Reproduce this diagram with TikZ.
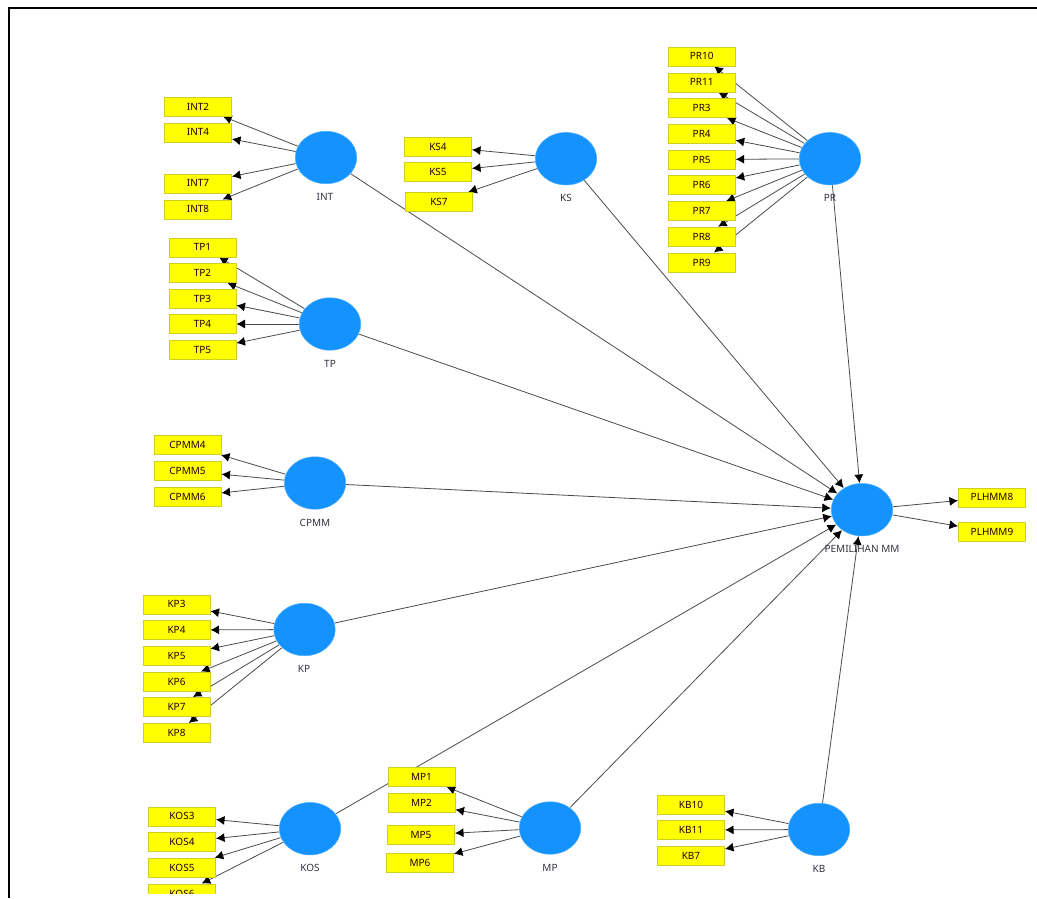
\documentclass[tikz,border=0pt]{standalone}
\usepackage{fontspec}
\setmainfont{Noto Sans}
\usetikzlibrary{shapes.geometric,arrows.meta,backgrounds}
\definecolor{lvblue}{HTML}{1493FF}
\definecolor{mvyellow}{HTML}{FFFF00}
\definecolor{mvedge}{HTML}{CFCF20}
\definecolor{linkgrey}{HTML}{4A4A4A}
\definecolor{lbltext}{HTML}{35303F}
\tikzset{
  latent/.style={ellipse,fill=lvblue,draw=lvblue!75!white,line width=.5pt,minimum width=61.5pt,minimum height=52.5pt,inner sep=0pt,outer sep=.5pt},
  mv/.style={rectangle,fill=mvyellow,draw=mvedge,line width=.6pt,minimum width=67pt,minimum height=19pt,inner sep=0pt,outer sep=.5pt,font=\fontsize{10}{11}\selectfont,text=black!85!red,text height=7.2pt,text depth=0pt},
  lbl/.style={font=\fontsize{10}{11}\selectfont,text=lbltext,inner sep=0pt},
  link/.style={draw=linkgrey,line width=.8pt,-{Latex[length=8.5pt,width=9pt,color=black]}},
  frameline/.style={draw=black,line width=2pt}
}
\begin{document}
\begin{tikzpicture}[x=1pt,y=-1pt]
\useasboundingbox (0,0) rectangle (1037,898);
\coordinate (fa) at (9,898);
\coordinate (fb) at (9,8);
\coordinate (fc) at (1037,8);
\draw[frameline] (fa) -- (fb) -- (fc);
% latent variables
\node[latent] (INT) at (326,157.5) {};
\node[latent] (KS) at (566,158.7) {};
\node[latent] (PR) at (830,158.7) {};
\node[latent] (TP) at (330,324) {};
\node[latent] (CPMM) at (315,483) {};
\node[latent] (KP) at (304.5,629.5) {};
\node[latent] (KOS) at (310,828.7) {};
\node[latent] (MP) at (550,828) {};
\node[latent] (KB) at (819,829.5) {};
\node[latent] (MM) at (862,509.7) {};
% labels
\node[lbl] (lINT) at (325,197) {INT};
\node[lbl] (lKS) at (566,198) {KS};
\node[lbl] (lPR) at (830,198) {PR};
\node[lbl] (lTP) at (330,363.5) {TP};
\node[lbl] (lCPMM) at (315,522.5) {CPMM};
\node[lbl] (lKP) at (304,668.5) {KP};
\node[lbl] (lKOS) at (310,868) {KOS};
\node[lbl] (lMP) at (550,867.5) {MP};
\node[lbl] (lKB) at (819,868.5) {KB};
\node[lbl] (lMM) at (862,549) {PEMILIHAN MM};
% indicators
\node[mv] (INT2) at (198,106.5) {INT2};
\node[mv] (INT4) at (198,132.3) {INT4};
\node[mv] (INT7) at (198,183.3) {INT7};
\node[mv] (INT8) at (198,209.3) {INT8};
\node[mv] (KS4) at (438,146.5) {KS4};
\node[mv] (KS5) at (438,172) {KS5};
\node[mv] (KS7) at (439,202) {KS7};
\node[mv] (PR10) at (701.7,56.3) {PR10};
\node[mv] (PR11) at (701.7,82.3) {PR11};
\node[mv] (PR3) at (701.7,108) {PR3};
\node[mv] (PR4) at (701.7,133.7) {PR4};
\node[mv] (PR5) at (701.7,159.5) {PR5};
\node[mv] (PR6) at (701.7,185) {PR6};
\node[mv] (PR7) at (701.7,211) {PR7};
\node[mv] (PR8) at (701.7,236.7) {PR8};
\node[mv] (PR9) at (701.7,262.5) {PR9};
\node[mv] (TP1) at (202.5,247.3) {TP1};
\node[mv] (TP2) at (202.5,273) {TP2};
\node[mv] (TP3) at (202.5,298.5) {TP3};
\node[mv] (TP4) at (202.5,324) {TP4};
\node[mv] (TP5) at (202.5,350) {TP5};
\node[mv] (CPMM4) at (187.5,445) {CPMM4};
\node[mv] (CPMM5) at (187.5,471) {CPMM5};
\node[mv] (CPMM6) at (187.5,496.5) {CPMM6};
\node[mv] (KP3) at (176.5,604.3) {KP3};
\node[mv] (KP4) at (176.5,630) {KP4};
\node[mv] (KP5) at (176.5,655.7) {KP5};
\node[mv] (KP6) at (176.5,681.5) {KP6};
\node[mv] (KP7) at (176.5,707) {KP7};
\node[mv] (KP8) at (176.5,733) {KP8};
\node[mv] (KOS3) at (182,816.3) {KOS3};
\node[mv] (KOS4) at (182,842) {KOS4};
\node[mv] (KOS5) at (182,867.7) {KOS5};
\begin{scope}
\clip (100,870) rectangle (300,893);
\node[mv] (KOS6) at (182,893.5) {KOS6};
\end{scope}
\node[mv] (MP1) at (421.5,777) {MP1};
\node[mv] (MP2) at (421.5,803) {MP2};
\node[mv] (MP5) at (421,835) {MP5};
\node[mv] (MP6) at (420,863) {MP6};
\node[mv] (KB10) at (691,804.5) {KB10};
\node[mv] (KB11) at (691,830) {KB11};
\node[mv] (KB7) at (691,856) {KB7};
\node[mv] (PLHMM8) at (992,497.3) {PLHMM8};
\node[mv] (PLHMM9) at (992,532) {PLHMM9};
% connectors, behind the boxes
\begin{scope}[on background layer]
\foreach \a/\b in {INT/INT2,INT/INT4,INT/INT7,INT/INT8,
  KS/KS4,KS/KS5,KS/KS7,
  PR/PR10,PR/PR11,PR/PR3,PR/PR4,PR/PR5,PR/PR6,PR/PR7,PR/PR8,PR/PR9,
  TP/TP1,TP/TP2,TP/TP3,TP/TP4,TP/TP5,
  CPMM/CPMM4,CPMM/CPMM5,CPMM/CPMM6,
  KP/KP3,KP/KP4,KP/KP5,KP/KP6,KP/KP7,KP/KP8,
  KOS/KOS3,KOS/KOS4,KOS/KOS5,KOS/KOS6,
  MP/MP1,MP/MP2,MP/MP5,MP/MP6,
  KB/KB10,KB/KB11,KB/KB7,
  MM/PLHMM8,MM/PLHMM9,
  INT/MM,KS/MM,PR/MM,TP/MM,CPMM/MM,KP/MM,KOS/MM,MP/MM,KB/MM}
  \draw[link] (\a) -- (\b);
\end{scope}
\end{tikzpicture}
\end{document}
